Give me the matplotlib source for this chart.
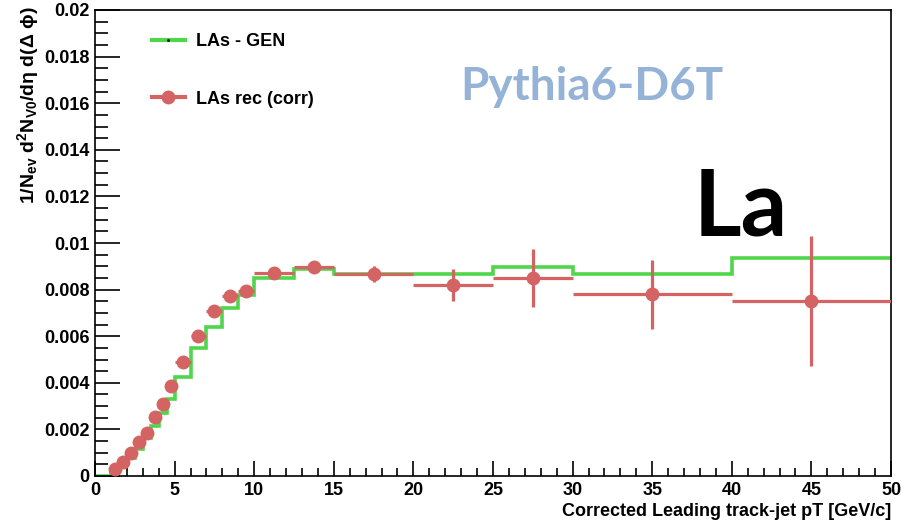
import matplotlib.pyplot as plt
from matplotlib.lines import Line2D
from matplotlib.ticker import MultipleLocator

plt.rcParams['font.family'] = ['Liberation Sans', 'DejaVu Sans']
plt.rcParams['mathtext.fontset'] = 'custom'
plt.rcParams['mathtext.rm'] = 'Liberation Sans:bold'
plt.rcParams['mathtext.it'] = 'Liberation Sans:bold'
plt.rcParams['mathtext.default'] = 'rm'

# GEN histogram (bin edges + contents)
gen_edges = [0, 1, 1.5, 2, 2.5, 3, 3.5, 4, 4.5, 5, 6, 7, 8, 9, 10, 12.5, 15, 20, 25, 30, 40, 50]
gen_vals = [0, 0.00026, 0.00047, 0.00076, 0.00116, 0.00162, 0.00216, 0.0027, 0.0033,
            0.00424, 0.00548, 0.0064, 0.00722, 0.00777, 0.0085, 0.00888, 0.00868,
            0.00867, 0.00896, 0.00866, 0.00934]

# reconstructed (corrected) points
rec_x = [1.25, 1.75, 2.25, 2.75, 3.25, 3.75, 4.25, 4.75, 5.5, 6.5, 7.5, 8.5, 9.5,
         11.25, 13.75, 17.5, 22.5, 27.5, 35, 45]
rec_y = [0.0003, 0.00061, 0.00097, 0.00145, 0.00186, 0.00255, 0.0031, 0.00388, 0.0049,
         0.0060, 0.0071, 0.00773, 0.00794, 0.0087, 0.00896, 0.00868, 0.0082, 0.0085,
         0.0078, 0.0075]
rec_xerr = [0.25] * 8 + [0.5] * 5 + [1.25, 1.25, 2.5, 2.5, 2.5, 5, 5]
rec_yerr = [0.00005] * 8 + [0.0001] * 5 + [0.0001, 0.0002, 0.00035, 0.00068, 0.00123,
                                          0.00147, 0.00278]

green = '#4fd64a'
red = '#d46463'

fig = plt.figure(figsize=(9.16, 5.23), dpi=100)
ax = fig.add_axes([95 / 916, 1 - 476 / 523, 796 / 916, 466 / 523])

ax.stairs(gen_vals, gen_edges, color=green, lw=2.6, baseline=None, zorder=2)
ax.errorbar(rec_x, rec_y, xerr=rec_xerr, yerr=rec_yerr, fmt='o', color=red,
            ms=9, elinewidth=2.3, capsize=0, zorder=3)

ax.set_xlim(0, 50)
ax.set_ylim(0, 0.02)
ax.xaxis.set_minor_locator(MultipleLocator(1))
ax.yaxis.set_minor_locator(MultipleLocator(0.0005))
ax.set_xticks(range(0, 51, 5))
ax.set_xticklabels([str(v) for v in range(0, 51, 5)])
yt = [i * 0.002 for i in range(11)]
ax.set_yticks(yt)
ax.set_yticklabels(['0', '0.002', '0.004', '0.006', '0.008', '0.01', '0.012',
                    '0.014', '0.016', '0.018', '0.02'])
ax.tick_params(which='both', direction='in', top=False, right=False,
               labelsize=13, pad=4)
ax.tick_params(axis='y', which='major', length=18, width=1.2)
ax.tick_params(axis='y', which='minor', length=9, width=1.2)
ax.tick_params(axis='x', which='major', length=11, width=1.2)
ax.tick_params(axis='x', which='minor', length=6, width=1.2)
for lab in ax.get_xticklabels() + ax.get_yticklabels():
    lab.set_fontweight('bold')
for s in ax.spines.values():
    s.set_linewidth(1.2)

ax.set_xlabel('Corrected Leading track-jet pT [GeV/c]', fontsize=13,
              fontweight='bold', ha='right', x=1.0, labelpad=3)
fig.text(28 / 916, 1 - 6 / 523,
         r'1/N$_{ev}$ d$^{2}$N$_{V0}$/d$\eta$ d($\Delta$ $\phi$)',
         rotation=90, ha='center', va='top', fontsize=14, fontweight='bold')

handles = [Line2D([], [], color=green, lw=3, marker='.', ms=2, mfc='k', mec='k'),
           Line2D([], [], color=red, lw=3, marker='o', ms=9)]
ax.legend(handles, ['LAs - GEN', 'LAs rec (corr)'], loc='upper left',
          bbox_to_anchor=(152 / 916, 1 - 33 / 523), bbox_transform=fig.transFigure,
          frameon=False, borderpad=0, borderaxespad=0, labelspacing=2.25,
          handlelength=1.8, handletextpad=0.65,
          prop={'family': 'Liberation Sans', 'weight': 'bold', 'size': 13})

fig.text(460 / 916, 1 - 100 / 523, 'Pythia6-D6T', fontsize=33, fontweight='bold',
         family='Lato', color='#95b3d7', ha='left', va='baseline')
fig.text(694 / 916, 1 - 236 / 523, 'La', fontsize=66, fontweight='bold',
         family='Lato', color='black', ha='left', va='baseline')

fig.savefig('out.png', dpi=100)
